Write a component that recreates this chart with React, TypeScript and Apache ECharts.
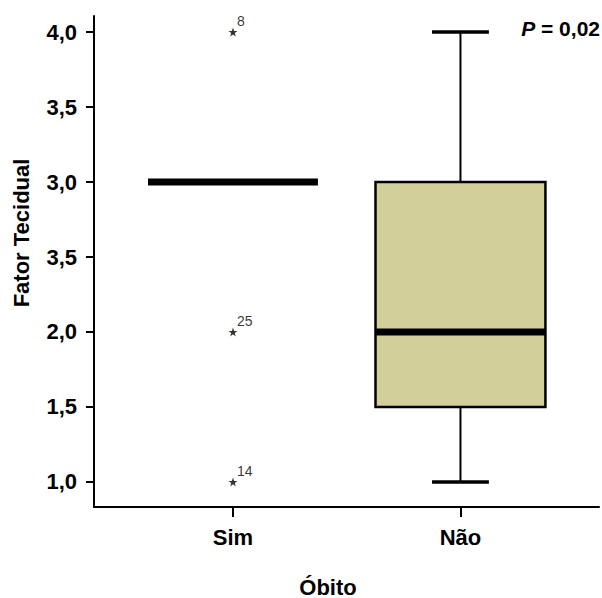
import React, { useEffect, useRef } from "react";
import * as echarts from "echarts";

// ---- data ----
const categories = ["Sim", "Não"];
const categoryPos = [1, 2];
// [min, Q1, median, Q3, max]
const boxMin = [3, 1];
const boxQ1 = [3, 1.5];
const boxMedian = [3, 2];
const boxQ3 = [3, 3];
const boxMax = [3, 4];
// outliers (category index, value, case label)
const outlierCat = [0, 0, 0];
const outlierValue = [4, 2, 1];
const outlierCase = ["8", "25", "14"];
// y ticks (labels as printed in the original, including its "3,5" at 2.5)
const yTickValues = [1, 1.5, 2, 2.5, 3, 3.5, 4];
const yTickLabels = ["1,0", "1,5", "2,0", "3,5", "3,0", "3,5", "4,0"];
const pText = "0,02";

const FONT = "'Liberation Sans', Arial, Helvetica, sans-serif";
const BOX_FILL = "#D3CF9B";
const BOX_WIDTH = 0.747;
const CAP_WIDTH = 0.25;
const STAR =
  "path://M50,0 L61.8,35.4 L99,35.4 L69,57.3 L80.3,92.7 L50,70.8 L19.7,92.7 L31,57.3 L1,35.4 L38.2,35.4 Z";

export default function App() {
  const ref = useRef<HTMLDivElement>(null);
  useEffect(() => {
    document.body.style.margin = "0";
    if (!ref.current) return;
    const chart = echarts.init(ref.current, undefined, { renderer: "svg" });
    const boxData = categories.map((_, i) => [
      categoryPos[i],
      boxMin[i],
      boxQ1[i],
      boxMedian[i],
      boxQ3[i],
      boxMax[i],
    ]);
    const outlierData = outlierValue.map((v, i) => ({
      value: [categoryPos[outlierCat[i]], v],
      name: outlierCase[i],
    }));

    const renderItem = (params: any, api: any) => {
      const x = api.value(0);
      const vmin = api.value(1);
      const q1 = api.value(2);
      const med = api.value(3);
      const q3 = api.value(4);
      const vmax = api.value(5);
      const boxW = api.size([BOX_WIDTH, 0])[0];
      const capW = api.size([CAP_WIDTH, 0])[0];
      const pMin = api.coord([x, vmin]);
      const pQ1 = api.coord([x, q1]);
      const pMed = api.coord([x, med]);
      const pQ3 = api.coord([x, q3]);
      const pMax = api.coord([x, vmax]);
      const cx = pMed[0];
      const children: any[] = [];
      if (vmax > q3) {
        children.push({
          type: "line",
          shape: { x1: cx, y1: pQ3[1], x2: cx, y2: pMax[1] },
          style: { stroke: "#000", lineWidth: 2 },
        });
        children.push({
          type: "line",
          shape: { x1: cx - capW / 2, y1: pMax[1], x2: cx + capW / 2, y2: pMax[1] },
          style: { stroke: "#000", lineWidth: 3.5 },
        });
      }
      if (vmin < q1) {
        children.push({
          type: "line",
          shape: { x1: cx, y1: pQ1[1], x2: cx, y2: pMin[1] },
          style: { stroke: "#000", lineWidth: 2 },
        });
        children.push({
          type: "line",
          shape: { x1: cx - capW / 2, y1: pMin[1], x2: cx + capW / 2, y2: pMin[1] },
          style: { stroke: "#000", lineWidth: 3.5 },
        });
      }
      if (q3 > q1) {
        children.push({
          type: "rect",
          shape: { x: cx - boxW / 2, y: pQ3[1], width: boxW, height: pQ1[1] - pQ3[1] },
          style: { fill: BOX_FILL, stroke: "#000", lineWidth: 2.5 },
        });
      }
      children.push({
        type: "line",
        shape: { x1: cx - boxW / 2, y1: pMed[1], x2: cx + boxW / 2, y2: pMed[1] },
        style: { stroke: "#000", lineWidth: 7, lineCap: "butt" },
      });
      return { type: "group", children };
    };

    chart.setOption({
      animation: false,
      backgroundColor: "#fff",
      grid: { left: 94, right: 3, top: 16, bottom: 91, containLabel: false },
      xAxis: {
        type: "value",
        min: 0.389,
        max: 2.609,
        splitLine: { show: false },
        axisLine: { show: true, lineStyle: { color: "#000", width: 2 } },
        axisTick: {
          show: true,
          customValues: categoryPos,
          length: 10,
          lineStyle: { color: "#000", width: 2 },
        },
        axisLabel: {
          customValues: categoryPos,
          formatter: (v: number) => categories[categoryPos.indexOf(v)] ?? "",
          color: "#000",
          fontFamily: FONT,
          fontWeight: "bold",
          fontSize: 22,
          margin: 19,
        },
      },
      yAxis: {
        type: "value",
        min: 0.8333,
        max: 4.1067,
        splitLine: { show: false },
        axisLine: { show: true, lineStyle: { color: "#000", width: 2 } },
        axisTick: {
          show: true,
          customValues: yTickValues,
          length: 8,
          lineStyle: { color: "#000", width: 2 },
        },
        axisLabel: {
          customValues: yTickValues,
          formatter: (v: number) => {
            const i = yTickValues.findIndex((t) => Math.abs(t - v) < 1e-6);
            return i >= 0 ? yTickLabels[i] : "";
          },
          color: "#000",
          fontFamily: FONT,
          fontWeight: "bold",
          fontSize: 22,
          margin: 17,
        },
      },
      series: [
        {
          type: "custom",
          renderItem,
          data: boxData,
          encode: { x: 0, y: [1, 2, 3, 4, 5] },
          clip: false,
          z: 2,
        },
        {
          type: "scatter",
          data: outlierData,
          symbol: STAR,
          symbolSize: 9,
          itemStyle: { color: "#000" },
          label: {
            show: true,
            formatter: (p: any) => p.name,
            position: "inside",
            align: "left",
            offset: [4, -11],
            color: "#000",
            fontFamily: FONT,
            fontSize: 14,
          },
          z: 3,
        },
      ],
      graphic: [
        {
          type: "text",
          x: 21,
          y: 233,
          rotation: Math.PI / 2,
          style: {
            text: "Fator Tecidual",
            fill: "#000",
            font: `bold 22px ${FONT}`,
            align: "center",
            verticalAlign: "middle",
          },
        },
        {
          type: "text",
          x: 328,
          y: 587,
          style: {
            text: "Óbito",
            fill: "#000",
            font: `bold 22px ${FONT}`,
            align: "center",
            verticalAlign: "middle",
          },
        },
        {
          type: "text",
          x: 600,
          y: 28,
          style: {
            text: `{i|P}{n| = ${pText}}`,
            align: "right",
            verticalAlign: "middle",
            rich: {
              i: { fill: "#000", font: `italic bold 21px ${FONT}` },
              n: { fill: "#000", font: `bold 21px ${FONT}` },
            },
          },
        },
      ],
    });
    return () => chart.dispose();
  }, []);
  return <div ref={ref} style={{ width: 602, height: 598 }} />;
}
